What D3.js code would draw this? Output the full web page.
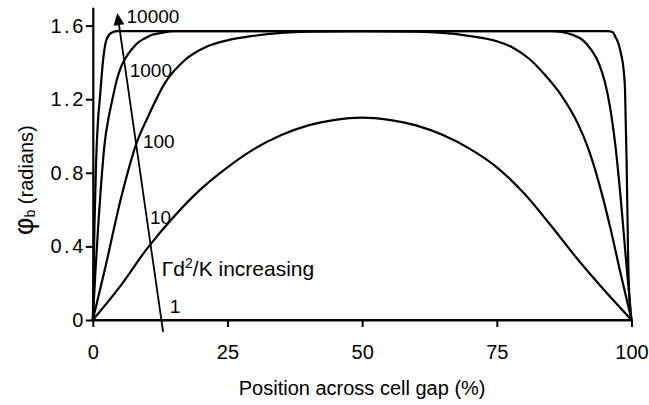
<!DOCTYPE html>
<html><head><meta charset="utf-8">
<script src="https://cdn.jsdelivr.net/npm/d3@7"></script>
<style>
html,body{margin:0;padding:0;background:#fff;}
svg{display:block;font-family:"Liberation Sans",Arial,sans-serif;}
</style></head>
<body>
<svg id="c" width="649" height="405"></svg>
<script>
// ---- data ----
const xTicks = [0, 25, 50, 75, 100];
const yTicks = [0, 0.4, 0.8, 1.2, 1.6];
const seriesNames = ["1", "10", "100", "1000", "10000"];
const curve1 = [[0,0],[50,0],[100,0]];
const curve10 = [[0,0],[5,0.18],[10,0.385],[15,0.56],[20,0.71],[25,0.83],[30,0.93],[35,1.005],[40,1.058],[45,1.088],[50,1.10],[55,1.088],[60,1.058],[65,1.005],[70,0.93],[75,0.83],[80,0.69],[85,0.515],[90,0.33],[95,0.16],[100,0]];
const curve100 = [[0,0],[2.2,0.27],[5.3,0.67],[8.1,0.96],[10.25,1.105],[13.35,1.286],[17.1,1.413],[21.1,1.485],[25,1.52],[30,1.545],[35,1.56],[40,1.567],[50,1.57],[60,1.567],[65,1.56],[70,1.543],[75,1.515],[78,1.48],[81,1.42],[84,1.33],[87,1.22],[90,1.07],[92,0.93],[94,0.74],[96,0.51],[98,0.25],[100,0]];
const curve1000 = [[0,0],[0.5,0.27],[1,0.51],[1.5,0.72],[2.2,0.96],[3,1.11],[3.5,1.18],[4.5,1.31],[5.3,1.38],[6,1.42],[7.2,1.47],[8.5,1.51],[9.6,1.53],[11,1.55],[12.7,1.56],[15,1.57],[85,1.57],[87,1.565],[89,1.55],[91,1.52],[92.5,1.47],[94,1.39],[95,1.30],[96,1.16],[97,0.95],[98,0.66],[99,0.32],[100,0]];
const curve10000 = [[0,0],[0.3,0.5],[0.6,0.85],[1,1.1],[1.3,1.2],[1.9,1.41],[2.5,1.52],[3.4,1.56],[4.5,1.57],[95.5,1.57],[96.5,1.565],[97,1.54],[97.6,1.50],[98.1,1.44],[98.5,1.37],[98.8,1.25],[99.1,0.85],[99.4,0.3],[99.7,0.08],[100,0]];
const allCurves = [curve1, curve10, curve100, curve1000, curve10000];
// annotation: arrow from (x,y) to (x,y) in data units, and label anchors
const arrowFrom = [13.05, -0.064];
const arrowTo = [4.55, 1.668];
const labelPos = [[14.3, 0.038], [10.6, 0.522], [9.3, 0.933], [6.85, 1.322], [6.26, 1.612]];
const noteText = "Γd";
const notePos = [12.8, 0.239];
const xTitle = "Position across cell gap (%)";

// ---- layout ----
const svg = d3.select("#c");
const x = d3.scaleLinear().domain([0, 100]).range([92.8, 631.5]);
const y = d3.scaleLinear().domain([0, 1.7]).range([320, 7.2]);

const g = svg.append("g");

// curves
const line = d3.line().x(d => x(d[0])).y(d => y(d[1])).curve(d3.curveMonotoneX);
g.selectAll("path.curve").data(allCurves).join("path")
  .attr("class", "curve")
  .attr("d", line)
  .attr("fill", "none").attr("stroke", "#000").attr("stroke-width", 2.2)
  .attr("stroke-linejoin", "round");

// axes
const xAxis = d3.axisBottom(x).tickValues(xTicks).tickSizeInner(7).tickSizeOuter(0).tickPadding(18).tickFormat(d3.format("d"));
const yAxis = d3.axisLeft(y).tickValues(yTicks).tickSizeInner(7).tickSizeOuter(0).tickPadding(0).tickFormat(d => d === 0 ? "0" : d3.format(".1f")(d));
const gx = g.append("g").attr("transform", `translate(0,${y(0)})`).call(xAxis);
const gy = g.append("g").attr("transform", `translate(${x(0)},0)`).call(yAxis);
[gx, gy].forEach(a => {
  a.select(".domain").attr("stroke", "#000").attr("stroke-width", 2.2);
  a.selectAll(".tick line").attr("stroke", "#000").attr("stroke-width", 2);
  a.selectAll(".tick text").attr("fill", "#000").style("font-size", "20px").style("font-family", '"Liberation Sans", Arial, sans-serif');
});
gy.selectAll(".tick text").style("letter-spacing", "2.5px");

// arrow
const ax0 = x(arrowFrom[0]), ay0 = y(arrowFrom[1]), ax1 = x(arrowTo[0]), ay1 = y(arrowTo[1]);
const ang = Math.atan2(ay1 - ay0, ax1 - ax0);
const hl = 12, hw = 5.5;
const bx = ax1 - hl * Math.cos(ang), by = ay1 - hl * Math.sin(ang);
g.append("line").attr("x1", ax0).attr("y1", ay0).attr("x2", bx).attr("y2", by)
  .attr("stroke", "#000").attr("stroke-width", 1.8);
g.append("path")
  .attr("d", `M${ax1},${ay1}L${bx + hw * Math.sin(ang)},${by - hw * Math.cos(ang)}L${bx - hw * Math.sin(ang)},${by + hw * Math.cos(ang)}Z`)
  .attr("fill", "#000");

// curve labels
g.selectAll("text.lab").data(seriesNames).join("text")
  .attr("class", "lab")
  .attr("x", (d, i) => x(labelPos[i][0]))
  .attr("y", (d, i) => y(labelPos[i][1]))
  .style("font-size", "19px")
  .text(d => d);

// note
const note = g.append("text").attr("x", x(notePos[0])).attr("y", y(notePos[1])).style("font-size", "21px");
note.append("tspan").text(noteText);
note.append("tspan").attr("dy", -8).style("font-size", "14px").text("2");
note.append("tspan").attr("dy", 8).text("/K increasing");

// axis titles
svg.append("text").attr("x", (x(0) + x(100)) / 2).attr("y", 395).attr("text-anchor", "middle")
  .style("font-size", "20px").text(xTitle);
const yt = svg.append("text").attr("transform", "translate(33,235) rotate(-90)").style("font-size", "20px");
yt.append("tspan").style("font-size", "27px").text("φ");
yt.append("tspan").attr("dy", 2).style("font-size", "14px").text("b");
yt.append("tspan").attr("dy", -2).text(" (radians)");
</script>
</body></html>
